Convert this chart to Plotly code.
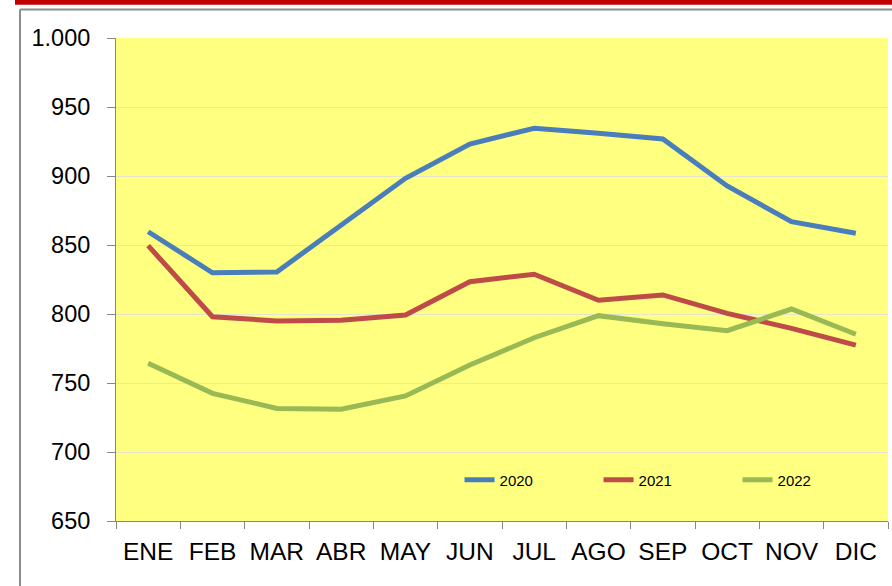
import plotly.graph_objects as go

months = ["ENE", "FEB", "MAR", "ABR", "MAY", "JUN", "JUL", "AGO", "SEP", "OCT", "NOV", "DIC"]
y2020 = [859.6, 829.9, 830.5, 864, 898.3, 923.2, 934.6, 931, 926.8, 892.8, 866.9, 858.5]
y2021 = [849.5, 798, 795, 795.5, 799.3, 823.4, 828.8, 810, 813.8, 800.5, 789.6, 777.5]
y2022 = [764.3, 742.5, 731.6, 731, 740.6, 763, 782.8, 798.8, 793, 787.9, 803.6, 785.3]
series_names = ["2020", "2021", "2022"]
colors = ["#4a7ebb", "#be4b48", "#98b954"]

W, H = 892, 586
L, R, T, B = 116, 4, 38, 65
pw, ph = W - L - R, H - T - B


def px_x(x):
    return (x - L) / pw


def px_y(y):
    return (H - B - y) / ph


fig = go.Figure()
for name, vals, col in zip(series_names, [y2020, y2021, y2022], colors):
    fig.add_trace(go.Scatter(x=months, y=vals, name=name, mode="lines",
                             line=dict(color=col, width=5)))

fig.update_layout(
    width=W, height=H,
    margin=dict(l=L, r=R, t=T, b=B),
    paper_bgcolor="white",
    plot_bgcolor="#ffff80",
    separators=",.",
    font=dict(family="Liberation Sans, Arial, sans-serif", color="black"),
    showlegend=True,
    legend=dict(orientation="h", x=0.445, y=0.085, xanchor="left", yanchor="middle",
                bgcolor="rgba(0,0,0,0)", font=dict(size=15),
                entrywidth=94, entrywidthmode="pixels"),
    shapes=[
        dict(type="rect", xref="paper", yref="paper", x0=px_x(15), x1=px_x(900),
             y0=px_y(4.7), y1=px_y(-2),
             fillcolor="#c00000", line=dict(width=0), layer="above"),
        dict(type="line", xref="paper", yref="paper", x0=px_x(20), x1=px_x(900),
             y0=px_y(9.5), y1=px_y(9.5),
             line=dict(color="#8c8c8c", width=2)),
        dict(type="line", xref="paper", yref="paper", x0=px_x(20), x1=px_x(20),
             y0=px_y(600), y1=px_y(9.5),
             line=dict(color="#8c8c8c", width=2)),
    ],
)
fig.update_xaxes(
    type="category", range=[-0.5, 11.5], showgrid=False,
    showline=True, linecolor="#868686", linewidth=1,
    ticks="outside", tickson="boundaries", ticklen=7, tickcolor="#868686",
    tickfont=dict(size=24.5), ticklabelstandoff=9, fixedrange=True,
)
fig.update_yaxes(
    range=[650, 1000], dtick=50, tickformat=",d", separatethousands=True,
    showgrid=True, gridcolor="rgba(225,225,215,0.9)", gridwidth=1,
    showline=True, linecolor="#868686", linewidth=1,
    ticks="outside", ticklen=8, tickcolor="#868686",
    tickfont=dict(size=23.5), ticklabelstandoff=12, zeroline=False,
)

fig.write_html("out.html", config={"displayModeBar": False},
               post_script="document.body.style.margin='0';")
